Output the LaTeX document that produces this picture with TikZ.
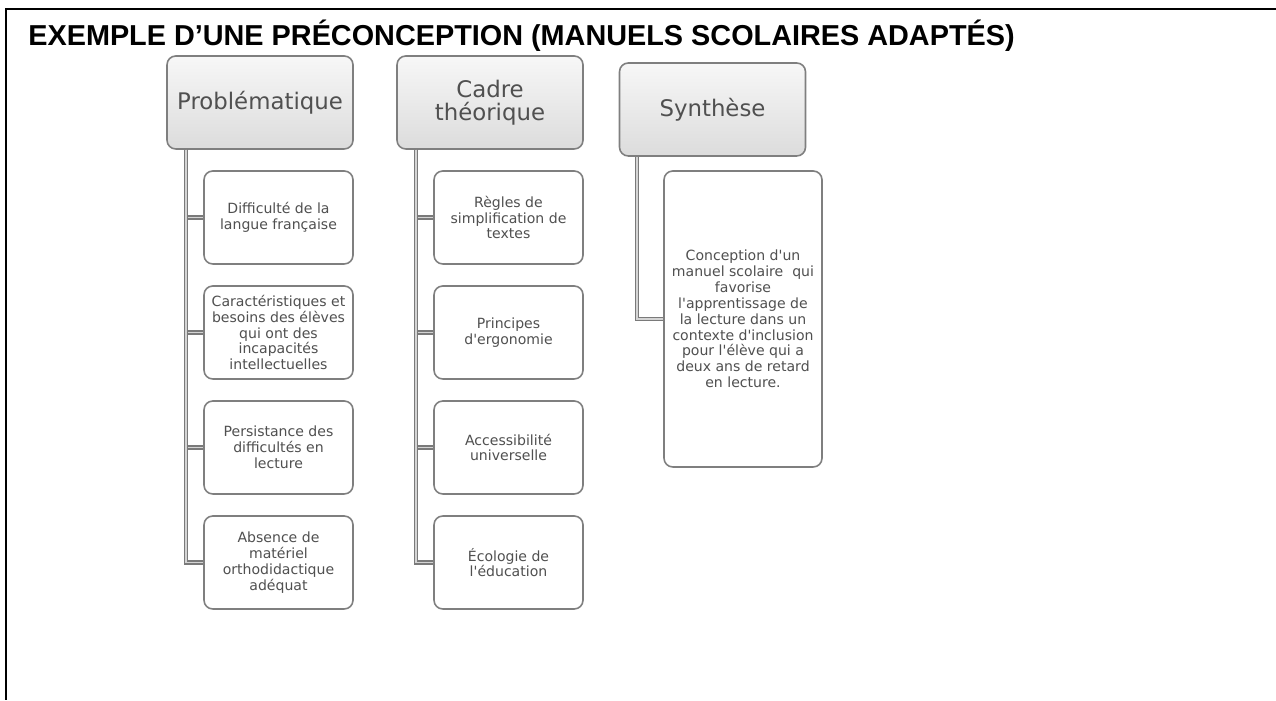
\documentclass[tikz,border=0pt]{standalone}
\usepackage{fontspec}
\usepackage{xcolor}
\usepackage{tikz}
\setmainfont{Liberation Sans}
\newfontfamily\boxfont{DejaVu Sans}
\definecolor{PCLine}{HTML}{7F7F7F}
\definecolor{PCText}{HTML}{505050}
\definecolor{PCTop}{HTML}{F7F7F7}
\definecolor{PCBottom}{HTML}{DCDCDC}
\definecolor{PCLink}{HTML}{7A7A7A}
\definecolor{PCLinkIn}{HTML}{D4D4D4}
\tikzset{
  headbox/.style={draw=PCLine,line width=0.9pt,rounded corners=5pt,top color=PCTop,bottom color=PCBottom,
    minimum width=3.72cm,minimum height=1.86cm,align=center,text=PCText,
    font=\boxfont\fontsize{13}{13}\selectfont},
  itembox/.style={draw=PCLine,line width=0.9pt,rounded corners=5pt,fill=white,
    minimum width=2.98cm,minimum height=1.86cm,align=center,text=PCText,inner sep=1pt,
    font=\boxfont\fontsize{8}{9}\selectfont},
  link/.style={draw=PCLink,line width=0.7pt,double=PCLinkIn,double distance=0.9pt}
}
\begin{document}
\begin{tikzpicture}[x=1cm,y=1cm]
\path[use as bounding box] (0,0) rectangle (25.52,14.00);
\draw[line width=1.3pt] (25.52,13.82) -- (0.12,13.82) -- (0.12,0);
\node[anchor=base west,inner sep=0pt,font=\bfseries\fontsize{16.4}{18}\selectfont] (titre) at (0.56,13.08) {EXEMPLE D’UNE PRÉCONCEPTION (MANUELS SCOLAIRES ADAPTÉS)};
\node[headbox] (prob) at (5.20,11.95) {Problématique};
\node[headbox] (cadre) at (9.80,11.95) {Cadre\\théorique};
\node[headbox] (synth) at (14.25,11.81) {Synthèse};
\node[itembox] (prob1) at (5.57,9.65) {Difficulté de la\\langue française};
\node[itembox] (prob2) at (5.57,7.35) {Caractéristiques et\\besoins des élèves\\qui ont des\\incapacités\\intellectuelles};
\node[itembox] (prob3) at (5.57,5.05) {Persistance des\\difficultés en\\lecture};
\node[itembox] (prob4) at (5.57,2.75) {Absence de\\matériel\\orthodidactique\\adéquat};
\node[itembox] (cadre1) at (10.17,9.65) {Règles de\\simplification de\\textes};
\node[itembox] (cadre2) at (10.17,7.35) {Principes\\d'ergonomie};
\node[itembox] (cadre3) at (10.17,5.05) {Accessibilité\\universelle};
\node[itembox] (cadre4) at (10.17,2.75) {Écologie de\\l'éducation};
\node[itembox,minimum width=3.16cm,minimum height=5.92cm] (synth1) at (14.86,7.62) {Conception d'un\\manuel scolaire~ qui\\favorise\\l'apprentissage de\\la lecture dans un\\contexte d'inclusion\\pour l'élève qui a\\deux ans de retard\\en lecture.};
\foreach \n in {prob1,prob2,prob3,prob4}
  \draw[link] ([xshift=0.4cm]prob.south west) |- (\n.west);
\foreach \n in {cadre1,cadre2,cadre3,cadre4}
  \draw[link] ([xshift=0.4cm]cadre.south west) |- (\n.west);
\draw[link] ([xshift=0.36cm]synth.south west) |- (synth1.west);
\end{tikzpicture}
\end{document}
